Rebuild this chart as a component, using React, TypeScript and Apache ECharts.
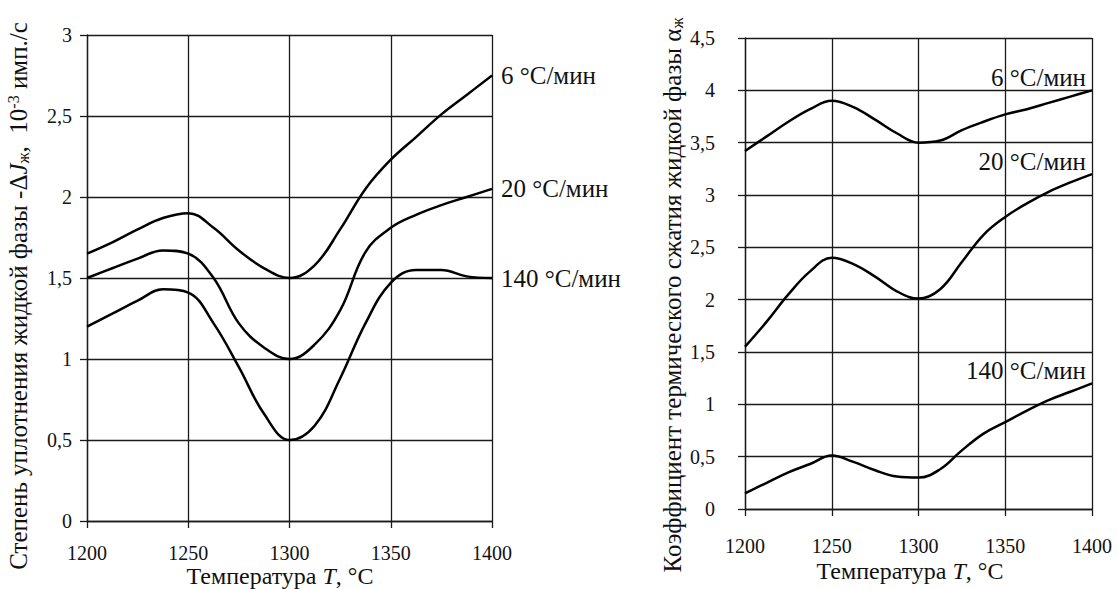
import React, { useEffect, useRef } from "react";
import * as echarts from "echarts";

const temperatures = [1200, 1212.5, 1225, 1237.5, 1250, 1262.5, 1275, 1287.5, 1300, 1312.5, 1325, 1337.5, 1350, 1362.5, 1375, 1387.5, 1400];
const xTicks = [1200, 1250, 1300, 1350, 1400];
const rateLabels = ["6 °C/мин", "20 °C/мин", "140 °C/мин"];

// Left chart: densification degree of liquid phase, 10^-3 imp./s
const densify6 = [1.65, 1.72, 1.8, 1.87, 1.9, 1.81, 1.67, 1.56, 1.5, 1.58, 1.8, 2.05, 2.23, 2.37, 2.51, 2.63, 2.75];
const densify20 = [1.5, 1.56, 1.62, 1.67, 1.65, 1.5, 1.22, 1.07, 1.0, 1.09, 1.3, 1.66, 1.81, 1.89, 1.95, 2.0, 2.05];
const densify140 = [1.2, 1.28, 1.36, 1.43, 1.41, 1.22, 0.95, 0.66, 0.5, 0.59, 0.88, 1.22, 1.47, 1.55, 1.55, 1.51, 1.5];

// Right chart: thermal contraction coefficient of liquid phase
const contract6 = [3.42, 3.56, 3.7, 3.82, 3.9, 3.84, 3.72, 3.59, 3.5, 3.52, 3.62, 3.7, 3.77, 3.82, 3.88, 3.94, 4.0];
const contract20 = [1.55, 1.79, 2.05, 2.27, 2.4, 2.34, 2.22, 2.08, 2.01, 2.1, 2.36, 2.62, 2.79, 2.92, 3.03, 3.12, 3.2];
const contract140 = [0.15, 0.25, 0.35, 0.43, 0.51, 0.45, 0.37, 0.31, 0.3, 0.38, 0.56, 0.72, 0.83, 0.94, 1.04, 1.12, 1.2];

const leftYName = "Степень уплотнения жидкой фазы -Δ{i|J}{sub|ж},  10{sup|-3} имп./с";
const rightYName = "Коэффициент термического сжатия жидкой фазы α{sub|ж}";
const xName = "Температура {i|T}, °C";

const FONT = "Liberation Serif";
const INK = "#111";
const GRIDC = "#1a1a1a";

const pairs = (ys: number[]) => temperatures.map((t, i) => [t, ys[i]]);

export default function App() {
  const ref = useRef<HTMLDivElement>(null);
  useEffect(() => {
    if (!ref.current) return;
    const chart = echarts.init(ref.current, null, { renderer: "svg" });
    const tickText = { fontFamily: FONT, fontSize: 20, color: INK, lineHeight: 20 };
    const bigText = { fontFamily: FONT, fontSize: 25, color: INK };
    const rich = {
      i: { fontFamily: FONT, fontSize: 25, fontStyle: "italic", color: INK },
      sub: { fontFamily: FONT, fontSize: 16, color: INK, verticalAlign: "bottom", padding: [10, 0, 0, 0] },
      sup: { fontFamily: FONT, fontSize: 16, color: INK, verticalAlign: "top", padding: [0, 0, 10, 0] },
    };
    const xRich = {
      i: { fontFamily: FONT, fontSize: 24, fontStyle: "italic", color: INK, lineHeight: 24 },
    };
    const xAxisBase = (gridIndex: number, margin: number) => ({
      type: "value",
      gridIndex,
      min: 1200,
      max: 1400,
      interval: 50,
      axisLine: { show: true, onZero: false, lineStyle: { color: GRIDC, width: 1.3 } },
      axisTick: { show: true, length: 7, lineStyle: { color: GRIDC, width: 1.3 } },
      axisLabel: { ...tickText, margin, formatter: (v: number) => (xTicks.includes(v) ? String(v) : "") },
      splitLine: { show: true, lineStyle: { color: GRIDC, width: 1.3 } },
    });
    const yAxisBase = (gridIndex: number, max: number, margin: number) => ({
      type: "value",
      gridIndex,
      min: 0,
      max,
      interval: 0.5,
      axisLine: { show: true, lineStyle: { color: GRIDC, width: 1.3 } },
      axisTick: { show: true, length: 7, lineStyle: { color: GRIDC, width: 1.3 } },
      axisLabel: { ...tickText, margin, formatter: (v: number) => String(v).replace(".", ",") },
      splitLine: { show: true, lineStyle: { color: GRIDC, width: 1.3 } },
    });
    const lineSeries = (name: string, ys: number[], idx: number, right: boolean) => ({
      type: "line",
      name,
      xAxisIndex: idx,
      yAxisIndex: idx,
      data: pairs(ys),
      smooth: 0.4,
      showSymbol: false,
      symbol: "none",
      lineStyle: { color: "#000", width: 2.5 },
      endLabel: right
        ? {
            show: true,
            formatter: name,
            ...bigText,
            align: "right",
            verticalAlign: "bottom",
            distance: 0,
            offset: [-6, 0],
          }
        : { show: true, formatter: name, ...bigText, distance: 9 },
    });
    const xNameText = (x: number, y: number) => ({
      type: "text",
      x,
      y,
      style: {
        text: xName,
        fontFamily: FONT,
        fontSize: 24,
        lineHeight: 24,
        fill: INK,
        rich: xRich,
        align: "center",
        verticalAlign: "middle",
      },
    });
    chart.setOption({
      animation: false,
      backgroundColor: "#fff",
      grid: [
        { left: 87, right: 626, top: 35, bottom: 68, outerBoundsMode: "none", containLabel: false },
        { left: 745, right: 26, top: 38, bottom: 80, outerBoundsMode: "none", containLabel: false },
      ],
      xAxis: [xAxisBase(0, 22), xAxisBase(1, 27)],
      yAxis: [yAxisBase(0, 3, 15), yAxisBase(1, 4.5, 30)],
      graphic: [
        {
          type: "text",
          x: 18,
          y: 296,
          rotation: Math.PI / 2,
          style: { text: leftYName, ...bigText, fill: INK, rich, align: "center", verticalAlign: "middle" },
        },
        {
          type: "text",
          x: 672,
          y: 295,
          rotation: Math.PI / 2,
          style: { text: rightYName, ...bigText, fill: INK, rich, align: "center", verticalAlign: "middle" },
        },
        xNameText(280, 576),
        xNameText(910, 571),
      ],
      series: [
        lineSeries(rateLabels[0], densify6, 0, false),
        lineSeries(rateLabels[1], densify20, 0, false),
        lineSeries(rateLabels[2], densify140, 0, false),
        lineSeries(rateLabels[0], contract6, 1, true),
        lineSeries(rateLabels[1], contract20, 1, true),
        lineSeries(rateLabels[2], contract140, 1, true),
      ],
    });
    return () => chart.dispose();
  }, []);
  return (
    <div
      ref={ref}
      style={{ position: "fixed", left: 0, top: 0, width: 1118, height: 589, background: "#fff" }}
    />
  );
}
